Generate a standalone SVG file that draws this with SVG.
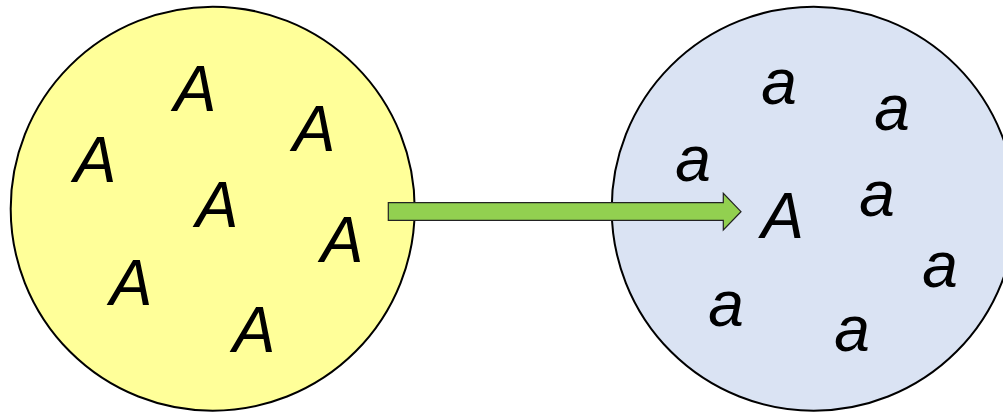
<svg xmlns="http://www.w3.org/2000/svg" width="1003" height="414" viewBox="0 0 1003 414">
<style>
.c{stroke:#000;stroke-width:2}
.t{font-family:"Liberation Sans",Arial,sans-serif;font-style:italic;font-size:64px;fill:#000;text-anchor:middle}
</style>
<rect width="1003" height="414" fill="#fff"/>
<g id="left">
<circle class="c" cx="212.7" cy="208.7" r="202" fill="#ffff99"/>
<text class="t" x="195" y="111">A</text>
<text class="t" x="95" y="182">A</text>
<text class="t" x="314" y="151">A</text>
<text class="t" x="217" y="227">A</text>
<text class="t" x="342" y="262">A</text>
<text class="t" x="131" y="305">A</text>
<text class="t" x="254" y="352">A</text>
</g>
<g id="right">
<circle class="c" cx="813.7" cy="208.7" r="202" fill="#dae3f3"/>
<text class="t" x="779" y="104">a</text>
<text class="t" x="892" y="130">a</text>
<text class="t" x="693" y="181">a</text>
<text class="t" x="782.5" y="238">A</text>
<text class="t" x="877" y="216">a</text>
<text class="t" x="940" y="287">a</text>
<text class="t" x="726" y="326">a</text>
<text class="t" x="852" y="351">a</text>
</g>
<g id="connectors">
<path d="M388.3,202.7 H723.3 V193.3 L741,211.7 L723.3,230 V220.3 H388.3 Z" fill="#92d050" stroke="#222" stroke-width="1.2" stroke-linejoin="miter"/>
</g>
</svg>
